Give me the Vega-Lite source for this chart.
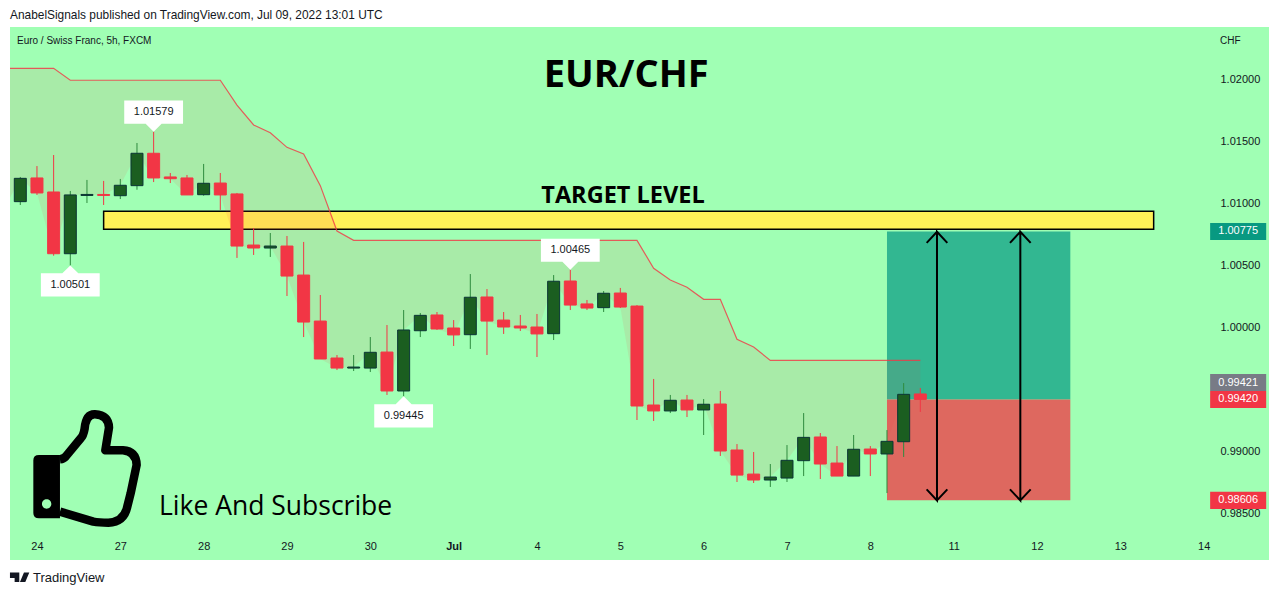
{"$schema":"https://vega.github.io/schema/vega-lite/v6.json","width":1259,"height":533,"autosize":{"type":"none"},"padding":{"left":10,"top":27,"right":11,"bottom":35},"background":"#ffffff","view":{"fill":"#a0ffb4","stroke":null},"config":{"text":{"font":"Liberation Sans","color":"#131722","fontSize":11},"axis":{"labelFont":"Liberation Sans","labelFontSize":11,"labelColor":"#131722","grid":false,"ticks":false,"domain":false}},"datasets":{"candles":[{"i":-1,"close":1.00948,"upper":1.0209},{"i":0,"open":1.01015,"close":1.01203,"high":1.01214,"low":1.00988,"upper":1.0209},{"i":1,"open":1.01206,"close":1.01085,"high":1.01302,"low":1.01069,"upper":1.0209},{"i":2,"open":1.01093,"close":1.00595,"high":1.01391,"low":1.00579,"upper":1.0209},{"i":3,"open":1.00595,"close":1.01069,"high":1.01101,"low":1.00501,"upper":1.01994},{"i":4,"open":1.01065,"close":1.01073,"high":1.0119,"low":1.01004,"upper":1.01994},{"i":5,"open":1.01073,"close":1.01065,"high":1.01182,"low":1.00988,"upper":1.01994},{"i":6,"open":1.01063,"close":1.01147,"high":1.01198,"low":1.01036,"upper":1.01994},{"i":7,"open":1.01144,"close":1.01405,"high":1.01488,"low":1.01111,"upper":1.01994},{"i":8,"open":1.01405,"close":1.01206,"high":1.01579,"low":1.01173,"upper":1.01994},{"i":9,"open":1.01214,"close":1.012,"high":1.01246,"low":1.01165,"upper":1.01994},{"i":10,"open":1.01206,"close":1.01069,"high":1.0123,"low":1.01069,"upper":1.01994},{"i":11,"open":1.01071,"close":1.01163,"high":1.01319,"low":1.01063,"upper":1.01994},{"i":12,"open":1.01165,"close":1.01069,"high":1.01246,"low":1.00948,"upper":1.01994},{"i":13,"open":1.01077,"close":1.00657,"high":1.01085,"low":1.00561,"upper":1.01794},{"i":14,"open":1.00665,"close":1.00641,"high":1.00802,"low":1.00585,"upper":1.01633},{"i":15,"open":1.00641,"close":1.00657,"high":1.00762,"low":1.00569,"upper":1.01571},{"i":16,"open":1.00657,"close":1.00415,"high":1.00738,"low":1.00254,"upper":1.01453},{"i":17,"open":1.00423,"close":1.00044,"high":1.0069,"low":0.99923,"upper":1.01399},{"i":18,"open":1.00052,"close":0.99746,"high":1.00262,"low":0.99746,"upper":1.01144},{"i":19,"open":0.99754,"close":0.99673,"high":0.99778,"low":0.99657,"upper":1.00778},{"i":20,"open":0.99673,"close":0.99681,"high":0.99778,"low":0.99649,"upper":1.00703},{"i":21,"open":0.99673,"close":0.998,"high":0.99923,"low":0.99641,"upper":1.00703},{"i":22,"open":0.99802,"close":0.99488,"high":1.0002,"low":0.99456,"upper":1.00703},{"i":23,"open":0.99488,"close":0.9998,"high":1.00141,"low":0.99445,"upper":1.00703},{"i":24,"open":0.99974,"close":1.00098,"high":1.00117,"low":0.99923,"upper":1.00703},{"i":25,"open":1.00101,"close":0.99988,"high":1.00125,"low":0.9998,"upper":1.00703},{"i":26,"open":0.99996,"close":0.9994,"high":1.0006,"low":0.99851,"upper":1.00703},{"i":27,"open":0.99942,"close":1.00244,"high":1.00431,"low":0.99827,"upper":1.00703},{"i":28,"open":1.00246,"close":1.00052,"high":1.0031,"low":0.99778,"upper":1.00703},{"i":29,"open":1.0006,"close":1.00004,"high":1.00125,"low":0.99948,"upper":1.00703},{"i":30,"open":1.00012,"close":0.99996,"high":1.00101,"low":0.99972,"upper":1.00703},{"i":31,"open":1.00004,"close":0.99948,"high":1.00109,"low":0.99762,"upper":1.00703},{"i":32,"open":0.9995,"close":1.00373,"high":1.00423,"low":0.99899,"upper":1.00703},{"i":33,"open":1.00375,"close":1.00181,"high":1.00465,"low":1.00141,"upper":1.00703},{"i":34,"open":1.0019,"close":1.00157,"high":1.00222,"low":1.00141,"upper":1.00703},{"i":35,"open":1.0016,"close":1.00276,"high":1.00294,"low":1.00125,"upper":1.00703},{"i":36,"open":1.00278,"close":1.00165,"high":1.00319,"low":1.00157,"upper":1.00703},{"i":37,"open":1.00173,"close":0.99367,"high":1.00181,"low":0.99254,"upper":1.00703},{"i":38,"open":0.99375,"close":0.99327,"high":0.99585,"low":0.99246,"upper":1.00477},{"i":39,"open":0.99327,"close":0.99413,"high":0.99456,"low":0.9931,"upper":1.00383},{"i":40,"open":0.99415,"close":0.99335,"high":0.99456,"low":0.99278,"upper":1.00324},{"i":41,"open":0.99335,"close":0.99381,"high":0.99423,"low":0.99133,"upper":1.00227},{"i":42,"open":0.99383,"close":0.99004,"high":0.99488,"low":0.98964,"upper":1.00227},{"i":43,"open":0.99012,"close":0.9881,"high":0.9906,"low":0.98754,"upper":0.99905},{"i":44,"open":0.98818,"close":0.9877,"high":0.98996,"low":0.98746,"upper":0.99843},{"i":45,"open":0.9877,"close":0.98794,"high":0.98899,"low":0.98714,"upper":0.99735},{"i":46,"open":0.98786,"close":0.98929,"high":0.99052,"low":0.98754,"upper":0.99735},{"i":47,"open":0.98926,"close":0.99114,"high":0.9931,"low":0.98802,"upper":0.99735},{"i":48,"open":0.99117,"close":0.98899,"high":0.99149,"low":0.98778,"upper":0.99735},{"i":49,"open":0.98907,"close":0.98802,"high":0.99044,"low":0.98802,"upper":0.99735},{"i":50,"open":0.98802,"close":0.99018,"high":0.99133,"low":0.98802,"upper":0.99735},{"i":51,"open":0.9902,"close":0.9898,"high":0.99044,"low":0.98802,"upper":0.99735},{"i":52,"open":0.9898,"close":0.99082,"high":0.99173,"low":0.98665,"upper":0.99735},{"i":53,"open":0.99079,"close":0.99461,"high":0.99552,"low":0.98956,"upper":0.99735},{"i":54,"open":0.99464,"close":0.9942,"high":0.99512,"low":0.99319,"upper":0.99735}],"callouts":[{"i":8,"price":1.01579,"label":"1.01579","side":"above"},{"i":3,"price":1.00501,"label":"1.00501","side":"below"},{"i":23,"price":0.99445,"label":"0.99445","side":"below"},{"i":33,"price":1.00465,"label":"1.00465","side":"above"}],"tags":[{"i":73.07,"price":1.00775,"label":"1.00775","tone":"target"},{"i":73.07,"price":0.99556,"label":"0.99421","tone":"gray"},{"i":73.07,"price":0.9942,"label":"0.99420","tone":"red"},{"i":73.07,"price":0.98606,"label":"0.98606","tone":"red"}],"arrows":[{"arrow":"a","seq":1,"i":54.38,"price":1.00683},{"arrow":"a","seq":2,"i":55,"price":1.00772},{"arrow":"a","seq":3,"i":55.62,"price":1.00683},{"arrow":"a","seq":4,"i":55,"price":1.00772},{"arrow":"a","seq":5,"i":55,"price":0.98606},{"arrow":"a","seq":6,"i":54.38,"price":0.98695},{"arrow":"a","seq":7,"i":55,"price":0.98606},{"arrow":"a","seq":8,"i":55.62,"price":0.98695},{"arrow":"b","seq":1,"i":59.38,"price":1.00683},{"arrow":"b","seq":2,"i":60,"price":1.00772},{"arrow":"b","seq":3,"i":60.62,"price":1.00683},{"arrow":"b","seq":4,"i":60,"price":1.00772},{"arrow":"b","seq":5,"i":60,"price":0.98606},{"arrow":"b","seq":6,"i":59.38,"price":0.98695},{"arrow":"b","seq":7,"i":60,"price":0.98606},{"arrow":"b","seq":8,"i":60.62,"price":0.98695}]},"encoding":{"x":{"field":"i","type":"quantitative","title":null,"scale":{"domain":[-0.618,74.92],"nice":false,"zero":false,"padding":0},"axis":{"orient":"bottom","offset":-20,"values":[1,6,11,16,21,26,31,36,41,46,51,56,61,66,71],"labelExpr":"['24','27','28','29','30','Jul','4','5','6','7','8','11','12','13','14'][(datum.value-1)/5]","labelFontWeight":{"condition":{"test":"datum.value==26","value":"bold"},"value":"normal"},"labelPadding":0,"labelBaseline":"top","labelAngle":0,"labelOverlap":false,"labelFlush":false,"ticks":false,"domain":false,"grid":false}},"y":{"field":"price","type":"quantitative","title":null,"scale":{"domain":[0.98125,1.024234],"nice":false,"zero":false,"padding":0},"axis":{"orient":"right","offset":-49,"title":null,"values":[0.985,0.99,1,1.005,1.01,1.015,1.02],"format":".5f","labelPadding":0,"labelAlign":"left","ticks":false,"domain":false,"grid":false,"labelOverlap":false,"labelFlush":false}}},"layer":[{"data":{"values":[{"i":52,"i2":63,"price":1.00775,"bottom":0.9942}]},"mark":{"type":"rect","fill":"#32b791"},"encoding":{"x2":{"field":"i2"},"y2":{"field":"bottom"}}},{"data":{"values":[{"i":52,"i2":63,"price":0.9942,"bottom":0.98606}]},"mark":{"type":"rect","fill":"#de685f"},"encoding":{"x2":{"field":"i2"},"y2":{"field":"bottom"}}},{"data":{"values":[{"i":5,"i2":68,"price":1.00937,"bottom":1.00792}]},"mark":{"type":"rect","fill":"#fff157","stroke":"#000000","strokeWidth":1.5},"encoding":{"x2":{"field":"i2"},"y2":{"field":"bottom"}}},{"data":{"name":"candles"},"mark":{"type":"area","color":"#f23645","opacity":0.1,"clip":true},"encoding":{"y":{"field":"upper","type":"quantitative","title":null},"y2":{"field":"close"}}},{"data":{"name":"candles"},"mark":{"type":"line","color":"#f23645","strokeWidth":1.2,"opacity":0.8,"clip":true},"encoding":{"y":{"field":"upper","type":"quantitative","title":null}}},{"data":{"name":"candles"},"transform":[{"filter":"datum.i>=0 && datum.close>=datum.open"}],"mark":{"type":"rule","color":"#2e8b3e","strokeWidth":1},"encoding":{"y":{"field":"high","type":"quantitative","title":null},"y2":{"field":"low"}}},{"data":{"name":"candles"},"transform":[{"filter":"datum.i>=0 && datum.close<datum.open"}],"mark":{"type":"rule","color":"#f23645","strokeWidth":1},"encoding":{"y":{"field":"high","type":"quantitative","title":null},"y2":{"field":"low"}}},{"data":{"name":"candles"},"transform":[{"filter":"datum.i>=0 && datum.close>=datum.open"}],"mark":{"type":"bar","width":12,"fill":"#1b5e20","stroke":"#0b3535","strokeWidth":1},"encoding":{"y":{"field":"open","type":"quantitative","title":null},"y2":{"field":"close"}}},{"data":{"name":"candles"},"transform":[{"filter":"datum.i>=0 && datum.close<datum.open"}],"mark":{"type":"bar","width":12,"fill":"#f23645","stroke":"#f23645","strokeWidth":1},"encoding":{"y":{"field":"open","type":"quantitative","title":null},"y2":{"field":"close"}}},{"data":{"name":"arrows"},"mark":{"type":"line","color":"#000000","strokeWidth":2,"strokeJoin":"miter"},"encoding":{"detail":{"field":"arrow"},"order":{"field":"seq"}}},{"data":{"name":"callouts"},"transform":[{"filter":"datum.side=='above'"}],"mark":{"type":"point","filled":true,"fill":"#ffffff","opacity":1,"size":14400,"shape":"M0,0 L-0.133,-0.133 L-0.49,-0.133 L-0.49,-0.52 L0.49,-0.52 L0.49,-0.133 L0.133,-0.133 Z"}},{"data":{"name":"callouts"},"transform":[{"filter":"datum.side=='below'"}],"mark":{"type":"point","filled":true,"fill":"#ffffff","opacity":1,"size":14400,"shape":"M0,0 L0.133,0.133 L0.49,0.133 L0.49,0.52 L-0.49,0.52 L-0.49,0.133 L-0.133,0.133 Z"}},{"data":{"name":"callouts"},"transform":[{"filter":"datum.side=='above'"}],"mark":{"type":"text","dy":-20,"align":"center","baseline":"middle"},"encoding":{"text":{"field":"label"}}},{"data":{"name":"callouts"},"transform":[{"filter":"datum.side=='below'"}],"mark":{"type":"text","dy":20,"align":"center","baseline":"middle"},"encoding":{"text":{"field":"label"}}},{"data":{"name":"tags"},"transform":[{"filter":"datum.tone=='target'"}],"mark":{"type":"point","filled":true,"fill":"#089981","opacity":1,"size":14400,"shape":"M-0.467,-0.142 L0.467,-0.142 L0.467,0.142 L-0.467,0.142 Z"}},{"data":{"name":"tags"},"transform":[{"filter":"datum.tone=='gray'"}],"mark":{"type":"point","filled":true,"fill":"#787b86","opacity":1,"size":14400,"shape":"M-0.467,-0.142 L0.467,-0.142 L0.467,0.142 L-0.467,0.142 Z"}},{"data":{"name":"tags"},"transform":[{"filter":"datum.tone=='red'"}],"mark":{"type":"point","filled":true,"fill":"#f23645","opacity":1,"size":14400,"shape":"M-0.467,-0.142 L0.467,-0.142 L0.467,0.142 L-0.467,0.142 Z"}},{"data":{"name":"tags"},"mark":{"type":"text","color":"#ffffff","align":"center","baseline":"middle"},"encoding":{"text":{"field":"label"}}},{"data":{"values":[{"i":4,"price":0.98867}]},"mark":{"type":"point","filled":false,"stroke":"#000000","strokeWidth":8.5,"opacity":1,"strokeJoin":"round","size":14400,"shape":"M-0.45,-0.144 Q-0.39,-0.15 -0.356,-0.189 L-0.1,-0.5 Q-0.06,-0.54 -0.04,-0.65 Q-0.017,-0.9 0.133,-0.894 Q0.36,-0.88 0.367,-0.672 L0.306,-0.294 L0.6,-0.294 Q0.82,-0.28 0.828,-0.05 L0.728,0.422 L0.672,0.644 Q0.62,0.9 0.356,0.911 Q0.2,0.91 0.106,0.894 L-0.45,0.728"}},{"data":{"values":[{"i":4,"price":0.98867}]},"mark":{"type":"point","filled":true,"fill":"#000000","opacity":1,"size":14400,"shape":"M-0.8,-0.217 L-0.45,-0.217 L-0.45,0.839 L-0.8,0.839 Q-0.894,0.839 -0.894,0.75 L-0.894,-0.13 Q-0.894,-0.217 -0.8,-0.217 Z M-0.75,0.6 A0.078,0.078 0 1 0 -0.594,0.6 A0.078,0.078 0 1 0 -0.75,0.6 Z"}},{"data":{"values":[{"i":36.35,"price":1.02028,"label":"EUR/CHF"}]},"mark":{"type":"text","font":"Open Sans","fontWeight":"bold","fontSize":38,"color":"#000000","align":"center","baseline":"middle"},"encoding":{"text":{"field":"label"}}},{"data":{"values":[{"i":36.16,"price":1.01061,"label":"TARGET LEVEL"}]},"mark":{"type":"text","font":"Open Sans","fontWeight":"bold","fontSize":23.5,"color":"#000000","align":"center","baseline":"middle"},"encoding":{"text":{"field":"label"}}},{"data":{"values":[{"i":8.32,"price":0.98556,"label":"Like And Subscribe"}]},"mark":{"type":"text","font":"Open Sans","fontSize":26.5,"color":"#000000","align":"left","baseline":"middle"},"encoding":{"text":{"field":"label"}}},{"data":{"values":[{"i":-0.2,"price":1.02311,"label":"Euro / Swiss Franc, 5h, FXCM"},{"i":71.98,"price":1.02311,"label":"CHF"}]},"mark":{"type":"text","fontSize":10,"align":"left","baseline":"middle"},"encoding":{"text":{"field":"label"}}},{"data":{"values":[{"i":0.76,"price":0.9798,"label":"TradingView"}]},"mark":{"type":"text","fontSize":13,"align":"left","baseline":"middle"},"encoding":{"text":{"field":"label"}}},{"data":{"values":[{"i":-0.618,"price":1.0252,"label":"AnabelSignals published on TradingView.com, Jul 09, 2022 13:01 UTC"}]},"mark":{"type":"text","fontSize":11.9,"align":"left","baseline":"middle"},"encoding":{"text":{"field":"label"}}},{"data":{"values":[{"i":-0.04,"price":0.97986}]},"mark":{"type":"point","filled":true,"fill":"#131722","opacity":1,"size":400,"shape":"M-0.967,-0.467 L-0.033,-0.467 L-0.033,0.467 L-0.5,0.467 L-0.5,0.067 L-0.967,0.067 Z M0.433,-0.467 L0.967,-0.467 L0.567,0.467 L0.033,0.467 Z"}}]}
